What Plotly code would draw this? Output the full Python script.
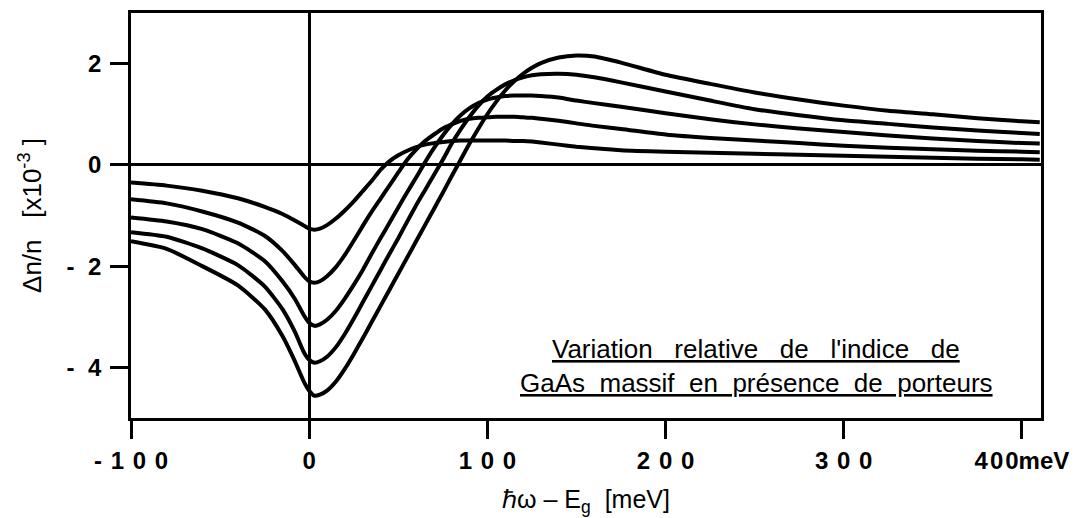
import plotly.graph_objects as go

# Photon energy relative to gap (meV)
x_mev = [-100, -80, -60, -40, -25, -15, -8, -3, 0, 3, 6, 10, 15, 20, 25, 30, 35, 40, 45, 50,
         55, 60, 65, 70, 75, 80, 85, 90, 95, 100, 105, 110, 115, 120, 125, 130, 140, 150, 160, 175,
         200, 225, 250, 275, 300, 325, 350, 375, 400, 410]

# Delta n / n  [x1e-3] for five carrier densities (lowest to highest)
dn_1 = [-0.35, -0.41, -0.51, -0.66, -0.83, -0.97, -1.10, -1.20, -1.26, -1.28, -1.26, -1.19, -1.06, -0.90, -0.72, -0.52, -0.32, -0.10, 0.07, 0.19,
        0.28, 0.35, 0.40, 0.43, 0.45, 0.47, 0.48, 0.48, 0.48, 0.48, 0.48, 0.48, 0.47, 0.47, 0.46, 0.44, 0.40, 0.36, 0.33, 0.29,
        0.26, 0.24, 0.22, 0.20, 0.18, 0.16, 0.14, 0.12, 0.11, 0.10]
dn_2 = [-0.68, -0.76, -0.92, -1.14, -1.40, -1.70, -1.98, -2.20, -2.30, -2.33, -2.30, -2.20, -2.02, -1.78, -1.50, -1.21, -0.93, -0.67, -0.41, -0.15,
        0.10, 0.30, 0.47, 0.60, 0.72, 0.80, 0.87, 0.91, 0.93, 0.94, 0.95, 0.95, 0.95, 0.94, 0.93, 0.91, 0.87, 0.82, 0.77, 0.71,
        0.60, 0.53, 0.48, 0.43, 0.38, 0.34, 0.31, 0.28, 0.26, 0.25]
dn_3 = [-1.04, -1.12, -1.27, -1.55, -1.90, -2.30, -2.65, -2.97, -3.12, -3.18, -3.15, -3.06, -2.88, -2.64, -2.37, -2.08, -1.76, -1.45, -1.15, -0.84,
        -0.54, -0.25, 0.05, 0.33, 0.58, 0.80, 0.98, 1.12, 1.22, 1.29, 1.33, 1.36, 1.37, 1.37, 1.37, 1.36, 1.33, 1.27, 1.22, 1.15,
        1.02, 0.90, 0.80, 0.72, 0.65, 0.58, 0.52, 0.47, 0.43, 0.42]
dn_4 = [-1.33, -1.42, -1.65, -1.98, -2.40, -2.85, -3.30, -3.70, -3.85, -3.91, -3.88, -3.79, -3.60, -3.34, -3.04, -2.72, -2.40, -2.08, -1.76, -1.45,
        -1.12, -0.80, -0.50, -0.20, 0.10, 0.42, 0.70, 0.95, 1.17, 1.35, 1.48, 1.59, 1.67, 1.73, 1.77, 1.79, 1.80, 1.78, 1.73, 1.63,
        1.45, 1.27, 1.10, 0.98, 0.88, 0.81, 0.74, 0.68, 0.63, 0.61]
dn_5 = [-1.51, -1.66, -2.00, -2.38, -2.85, -3.38, -3.88, -4.28, -4.46, -4.56, -4.54, -4.46, -4.28, -4.03, -3.74, -3.43, -3.11, -2.79, -2.47, -2.15,
        -1.83, -1.51, -1.19, -0.87, -0.55, -0.22, 0.10, 0.42, 0.72, 1.00, 1.25, 1.47, 1.65, 1.80, 1.92, 2.01, 2.12, 2.16, 2.14, 2.02,
        1.78, 1.60, 1.43, 1.29, 1.17, 1.07, 1.00, 0.92, 0.86, 0.84]

SP = "\u00a0\u200a"
HS = "\u200a"
x_tickvals = [-100, 0, 100, 200, 300, 400]
x_ticktext = ["-" + SP + "1" + SP + "0" + SP + "0", "0", "1" + SP + "0" + SP + "0",
              "2" + SP + "0" + SP + "0", "3" + SP + "0" + SP + "0", "4" + HS + "0" + HS + "0meV"]
y_tickvals = [2, 0, -2, -4]
y_ticktext = ["2", "0", "-\u00a0\u00a02", "-\u00a0\u00a04"]

fig = go.Figure()
for ys in [dn_1, dn_2, dn_3, dn_4, dn_5]:
    fig.add_trace(go.Scatter(x=x_mev, y=ys, mode="lines",
                             line=dict(color="black", width=4, shape="spline", smoothing=0.6),
                             showlegend=False, hoverinfo="skip"))

FAM = "Liberation Sans, Arial, sans-serif"
tick_font = dict(family=FAM, size=24, color="black", weight="bold")
title_font = dict(family=FAM, size=26, color="black")
NB = "\u00a0"

fig.update_layout(
    width=1073, height=510,
    margin=dict(l=123, r=40, t=2, b=100),
    paper_bgcolor="white", plot_bgcolor="white",
    xaxis=dict(range=[-100, 410.7], tickvals=x_tickvals, ticktext=x_ticktext,
               showgrid=False, zeroline=True, zerolinecolor="black", zerolinewidth=2.5,
               showline=True, mirror=True, linecolor="black", linewidth=2.8,
               ticks="outside", ticklen=18, tickwidth=3, tickcolor="black",
               tickfont=tick_font, ticklabelstandoff=1,
               title=dict(text="\u210fω – E<sub>g</sub>" + NB + NB + "[meV]", font=dict(family=FAM, size=25, color="black"), standoff=18)),
    yaxis=dict(range=[-5, 3], tickvals=y_tickvals, ticktext=y_ticktext,
               showgrid=False, zeroline=True, zerolinecolor="black", zerolinewidth=2.5,
               showline=True, mirror=True, linecolor="black", linewidth=2.8,
               ticks="outside", ticklen=18, tickwidth=3, tickcolor="black",
               tickfont=tick_font, ticklabelstandoff=4,
               title=dict(text="Δn/n" + NB + NB + NB + "[x10<sup>-3</sup>" + NB + "]", font=title_font, standoff=18)),
)

ann_font = dict(family=FAM, size=26, color="black")
line1 = (NB * 3).join(["Variation", "relative", "de", "l'indice", "de"])
line2 = (NB * 2).join(["GaAs", "massif", "en", "présence", "de", "porteurs"])
fig.add_annotation(x=251, y=-3.64, xref="x", yref="y", showarrow=False,
                   text="<u>" + line1 + "</u>", font=ann_font)
fig.add_annotation(x=251, y=-4.31, xref="x", yref="y", showarrow=False,
                   text="<u>" + line2 + "</u>", font=ann_font)

fig.write_html("out.html")
